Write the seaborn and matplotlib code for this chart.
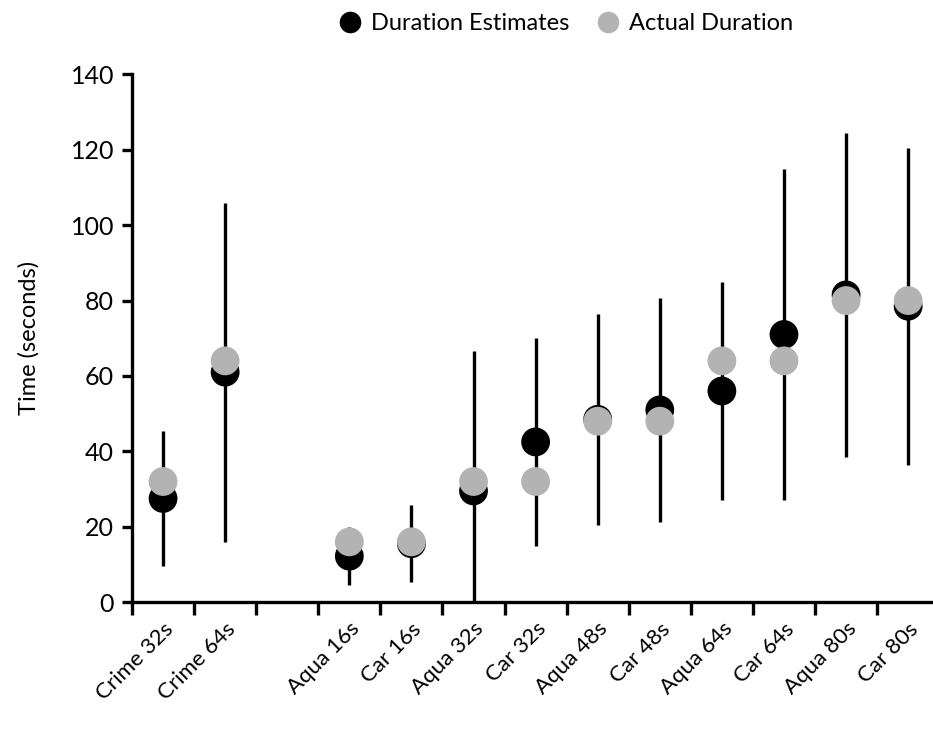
import numpy as np
import pandas as pd
import matplotlib
matplotlib.use("Agg")
import matplotlib.pyplot as plt
import seaborn as sns

# chart values
categories = ["Crime 32s", "Crime 64s", "Aqua 16s", "Car 16s", "Aqua 32s", "Car 32s",
              "Aqua 48s", "Car 48s", "Aqua 64s", "Car 64s", "Aqua 80s", "Car 80s"]
estimates = [27.5, 61, 12.2, 15.5, 29.5, 42.5, 48.5, 51, 56, 71, 81.5, 78.5]
estimate_sd = [18, 45, 7.7, 10.2, 37, 27.7, 28, 29.7, 29, 44, 43, 42]
actual = [32, 64, 16, 16, 32, 32, 48, 48, 64, 64, 80, 80]
y_ticks = [0, 20, 40, 60, 80, 100, 120, 140]

sns.set_theme(style="ticks")
plt.rcParams['font.family'] = ['Lato', 'DejaVu Sans']
plt.rcParams['text.color'] = 'black'
plt.rcParams['axes.labelcolor'] = 'black'
plt.rcParams['xtick.color'] = 'black'
plt.rcParams['ytick.color'] = 'black'

# one empty slot between the crime clips and the rest
idx = np.arange(len(categories))
pos = idx + (idx >= 2)

df = pd.DataFrame({
    "pos": np.concatenate([pos, pos]),
    "time": estimates + actual,
    "series": ["Duration Estimates"] * len(categories) + ["Actual Duration"] * len(categories),
})

fig = plt.figure(figsize=(9.33, 7.29), dpi=100)
ax = fig.add_axes([0.1415, 0.174, 0.8585, 0.724])

lo = np.minimum(estimate_sd, estimates)  # clipped at zero
ax.errorbar(pos, estimates, yerr=[lo, estimate_sd], fmt="none", ecolor="black",
            elinewidth=2.4, capsize=0, zorder=1)

sns.scatterplot(data=df, x="pos", y="time", hue="series",
                palette={"Duration Estimates": "black", "Actual Duration": "#b3b3b3"},
                s=430, edgecolor="none", linewidth=0, ax=ax, zorder=3)

ax.set_ylim(0, 140)
ax.set_yticks(y_ticks)
ax.set_xlim(-0.5, 12.4)
ax.set_xticks(pos)
ax.set_xticklabels(categories, rotation=45, ha="right", rotation_mode="anchor", fontsize=16)
ax.set_xticks(np.arange(0, 13) - 0.5, minor=True)
ax.tick_params(axis="x", which="major", length=0, pad=12)
ax.tick_params(axis="x", which="minor", length=9, width=2.4, direction="out")
ax.tick_params(axis="y", length=7, width=2.4, labelsize=18, pad=6)
ax.set_xlabel("")
ax.set_ylabel("Time (seconds)", fontsize=17, labelpad=22)

sns.despine(ax=ax)
for side in ["left", "bottom"]:
    ax.spines[side].set_linewidth(2.4)
    ax.spines[side].set_color("black")

sns.move_legend(ax, "center", bbox_to_anchor=(0.6, 0.968), bbox_transform=fig.transFigure,
                ncol=2, frameon=False, title=None, fontsize=17, markerscale=0.75,
                handletextpad=-0.1, columnspacing=0.6)

fig.savefig("out.png", dpi=100)
